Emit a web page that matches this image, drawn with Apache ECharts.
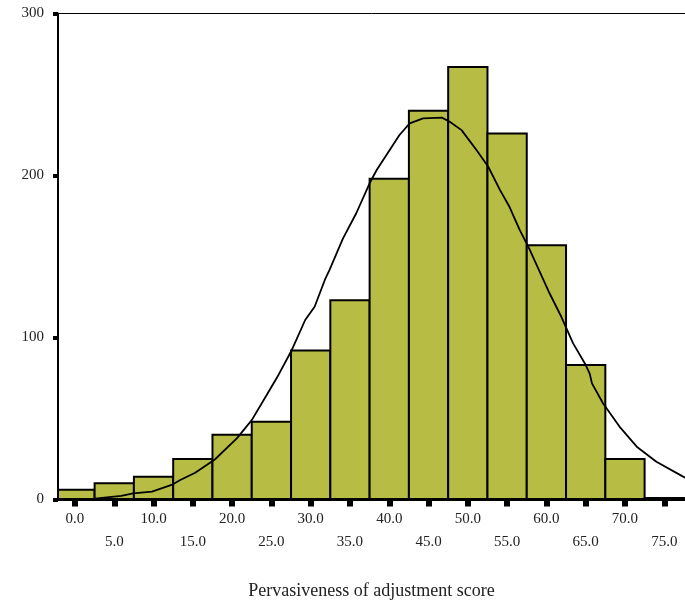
<!DOCTYPE html>
<html>
<head>
<meta charset="utf-8">
<script src="https://cdn.jsdelivr.net/npm/echarts@6/dist/echarts.min.js"></script>
<style>
html,body{margin:0;padding:0;background:#fff;}
#chart{width:685px;height:606px;}
</style>
</head>
<body>
<div id="chart"></div>
<script>
// Histogram bins (centres) and counts
const binCenters = [0, 5, 10, 15, 20, 25, 30, 35, 40, 45, 50, 55, 60, 65, 70, 75];
const counts     = [6, 10, 14, 25, 40, 48, 92, 123, 198, 240, 267, 226, 157, 83, 25, 1];
const binWidth = 5;

// Normal curve
const curveX = [2.5, 5.9, 7.4, 9.8, 12.3, 13.4, 15.3, 17.8, 20.6, 22.5, 24.4, 25.9, 27.6, 29.3, 30.5, 31.8, 32.4, 34.1, 35.8, 37.5, 38.4, 41.3, 42.6, 44.3, 46.7, 47.7, 49.2, 51.1, 52.6, 54.1, 55.3, 56.6, 57.9, 60.4, 61.9, 63.4, 64.9, 65.5, 65.8, 67.2, 69.3, 71.5, 74.0, 77.4, 77.7];
const curveY = [0.5, 2.2, 3.8, 4.8, 9.0, 12.0, 16.5, 24.7, 37.7, 49.0, 64.5, 76.9, 92.3, 110.8, 119.0, 135.5, 141.7, 161.0, 176.7, 195.2, 203.4, 225.0, 232.2, 235.3, 235.7, 233.2, 228.0, 215.7, 205.4, 191.0, 180.7, 166.4, 154.0, 127.3, 112.8, 96.4, 84.0, 77.9, 71.7, 59.4, 45.0, 32.6, 23.3, 14.1, 13.5];

// Axis ticks
const xTicks = [0, 5, 10, 15, 20, 25, 30, 35, 40, 45, 50, 55, 60, 65, 70, 75];
const yTicks = [0, 100, 200, 300];
const xMin = -2.16, xMax = 77.64;
const xTitle = 'Pervasiveness of adjustment score';

const font = 'Liberation Serif';
const chart = echarts.init(document.getElementById('chart'));

const barData = binCenters.map((c, i) => [c, counts[i]]);
const lineData = curveX.map((x, i) => [x, curveY[i]]);

chart.setOption({
  animation: false,
  backgroundColor: '#fff',
  grid: { left: 58, right: 0, top: 13.5, bottom: 106.5 },
  xAxis: [{
    type: 'value', min: xMin, max: xMax, position: 'bottom', z: 5,
    axisLine: { show: true, onZero: false, lineStyle: { color: '#000', width: 3 } },
    axisTick: { show: true, customValues: xTicks, length: 7, lineStyle: { color: '#000', width: 6 } },
    axisLabel: {
      show: true, customValues: xTicks, margin: 8,
      fontFamily: font, fontSize: 15, color: '#222', lineHeight: 23,
      formatter: v => (Math.round(v / 5) % 2 === 0 ? '' : '\n') + v.toFixed(1)
    },
    splitLine: { show: false },
    name: xTitle, nameLocation: 'middle', nameGap: 83,
    nameTextStyle: { fontFamily: font, fontSize: 18, color: '#222' }
  }, {
    type: 'value', min: xMin, max: xMax, position: 'top', z: 5,
    axisLine: { show: true, onZero: false, lineStyle: { color: '#000', width: 1 } },
    axisTick: { show: false }, axisLabel: { show: false }, splitLine: { show: false }
  }],
  yAxis: {
    type: 'value', min: yTicks[0], max: yTicks[yTicks.length - 1], interval: 100, z: 5,
    position: 'left',
    axisLine: { show: true, onZero: false, lineStyle: { color: '#000', width: 2 } },
    axisTick: { show: true, length: 5, lineStyle: { color: '#000', width: 4 } },
    axisLabel: { margin: 14, fontFamily: font, fontSize: 15, color: '#222' },
    splitLine: { show: false }
  },
  series: [{
    type: 'custom',
    clip: true,
    data: barData,
    z: 2,
    renderItem: function (params, api) {
      const c = api.value(0), v = api.value(1);
      const p0 = api.coord([c - binWidth / 2, v]);
      const p1 = api.coord([c + binWidth / 2, 0]);
      const cs = params.coordSys;
      const rect = echarts.graphic.clipRectByRect(
        { x: p0[0], y: p0[1], width: p1[0] - p0[0], height: p1[1] - p0[1] },
        { x: cs.x, y: cs.y, width: cs.width, height: cs.height }
      );
      if (!rect) return null;
      return {
        type: 'rect', shape: rect,
        style: { fill: '#b7bd44', stroke: '#000', lineWidth: 2 }
      };
    }
  }, {
    type: 'line',
    data: lineData,
    z: 4,
    symbol: 'none',
    smooth: false,
    clip: true,
    lineStyle: { color: '#000', width: 1.8 }
  }]
});
</script>
</body>
</html>
